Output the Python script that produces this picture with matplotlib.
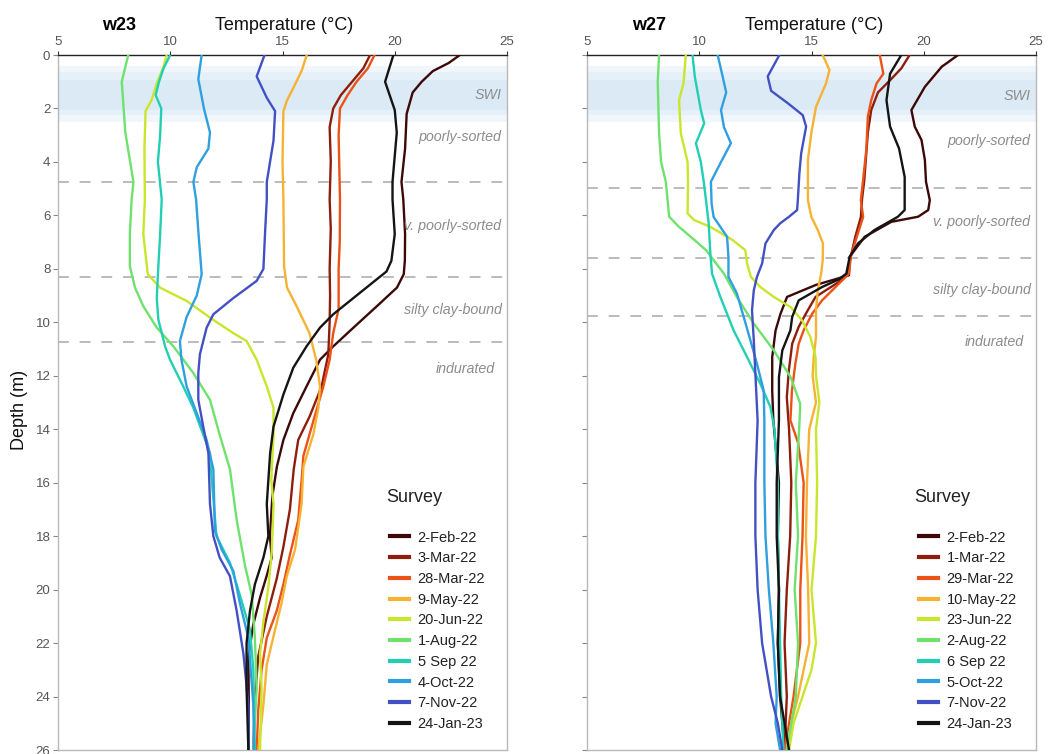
import matplotlib
matplotlib.use('Agg')
import matplotlib.pyplot as plt
from matplotlib.lines import Line2D

plt.rcParams['font.family'] = ['Liberation Sans', 'DejaVu Sans']

# ---------------- data ----------------
labels_w23 = ['2-Feb-22', '3-Mar-22', '28-Mar-22', '9-May-22', '20-Jun-22',
              '1-Aug-22', '5 Sep 22', '4-Oct-22', '7-Nov-22', '24-Jan-23']
labels_w27 = ['2-Feb-22', '1-Mar-22', '29-Mar-22', '10-May-22', '23-Jun-22',
              '2-Aug-22', '6 Sep 22', '5-Oct-22', '7-Nov-22', '24-Jan-23']
colors = ['#3d0808', '#8e1e0c', '#ea5218', '#f5b233', '#c9e52c',
          '#6fe26d', '#22cfb2', '#2f9fe0', '#4350c4', '#141414']

# w23 profiles (depth m, temperature degC)
w23_feb_d = [0, 0.3, 0.6, 1.0, 1.4, 2.2, 3.5, 4.75, 5.4, 6.7, 7.7, 8.2, 8.7, 9.4, 10.2, 10.9, 11.4, 12.4, 13.4, 14.4, 15.4, 16.5, 18.0, 18.8, 19.5, 20.3, 21.3, 22.5, 24.3, 26]
w23_feb_t = [22.9, 22.4, 21.7, 21.2, 20.8, 20.53, 20.46, 20.3, 20.38, 20.46, 20.45, 20.4, 20.1, 19.2, 18.16, 17.26, 16.67, 16.07, 15.48, 15.04, 14.75, 14.55, 14.44, 14.52, 14.29, 14.0, 13.7, 13.48, 13.5, 13.48]
w23_mar3_d = [0, 0.5, 1.0, 1.5, 2.0, 2.7, 4.0, 5.4, 6.5, 8.0, 9.0, 10.0, 11.2, 12.4, 13.5, 14.4, 15.5, 17.0, 18.4, 19.6, 21.0, 22.5, 24.0, 26]
w23_mar3_t = [18.9, 18.6, 18.1, 17.6, 17.26, 17.1, 17.15, 17.1, 17.15, 17.1, 17.12, 17.1, 17.04, 16.74, 16.22, 15.7, 15.5, 15.33, 15.04, 14.74, 14.3, 13.92, 13.78, 13.7]
w23_mar28_d = [0, 0.5, 1.0, 1.5, 2.0, 3.0, 5.4, 7.0, 8.0, 9.5, 10.4, 11.4, 12.4, 13.7, 15.0, 15.9, 17.4, 18.7, 19.8, 20.8, 21.8, 23.0, 24.5, 26]
w23_mar28_t = [19.1, 18.8, 18.3, 17.9, 17.56, 17.5, 17.56, 17.55, 17.5, 17.5, 17.26, 17.1, 16.82, 16.37, 15.93, 15.85, 15.7, 15.33, 15.04, 14.74, 14.3, 14.07, 13.92, 13.85]
w23_may_d = [0, 0.6, 1.2, 1.7, 2.1, 4.0, 5.4, 7.9, 8.7, 9.4, 10.4, 11.4, 12.4, 13.2, 14.2, 15.4, 16.8, 18.5, 19.5, 20.5, 21.5, 22.8, 24.3, 26]
w23_may_t = [16.08, 15.85, 15.5, 15.2, 15.04, 15.0, 15.04, 15.07, 15.2, 15.63, 16.2, 16.5, 16.67, 16.6, 16.37, 15.93, 15.85, 15.56, 15.19, 14.96, 14.67, 14.3, 14.15, 13.92]
w23_jun_d = [0, 0.44, 1.06, 1.69, 2.1, 3.5, 5.4, 6.7, 8.2, 8.7, 9.2, 9.9, 10.4, 10.7, 11.4, 12.4, 13.2, 14.2, 15.9, 16.8, 18.6, 19.9, 21.2, 22.4, 23.7, 26]
w23_jun_t = [9.84, 9.7, 9.4, 9.17, 8.9, 8.85, 8.87, 8.8, 9.0, 9.54, 10.73, 11.9, 12.8, 13.4, 13.85, 14.3, 14.6, 14.6, 14.5, 14.6, 14.52, 14.37, 14.15, 14.0, 14.07, 14.0]
w23_aug_d = [0, 1.0, 2.9, 4.75, 5.4, 6.7, 7.9, 8.7, 9.4, 10.2, 10.9, 11.9, 12.9, 14.2, 15.5, 17.4, 19.1, 20.2, 21.8, 23.7, 26]
w23_aug_t = [8.13, 7.84, 8.0, 8.36, 8.28, 8.2, 8.2, 8.43, 8.8, 9.4, 10.14, 11.03, 11.77, 12.2, 12.66, 12.96, 13.33, 13.63, 13.77, 13.85, 13.7]
w23_sep_d = [0, 0.5, 1.0, 1.5, 2.0, 3.0, 4.0, 5.4, 6.7, 7.9, 9.1, 9.9, 10.9, 11.4, 12.4, 13.2, 14.2, 14.9, 15.9, 18.0, 19.0, 20.2, 21.5, 23.0, 26]
w23_sep_t = [10.0, 9.7, 9.5, 9.35, 9.6, 9.55, 9.45, 9.62, 9.55, 9.47, 9.4, 9.47, 9.77, 9.99, 10.58, 11.03, 11.47, 11.77, 11.85, 12.06, 12.66, 13.1, 13.55, 13.7, 13.77]
w23_oct_d = [0, 0.9, 2.0, 2.9, 3.5, 4.2, 4.75, 5.4, 6.7, 8.2, 9.0, 9.8, 10.7, 11.4, 12.4, 13.4, 14.4, 15.5, 17.8, 18.5, 19.3, 20.5, 21.8, 24.3, 26]
w23_oct_t = [11.4, 11.25, 11.5, 11.77, 11.7, 11.18, 11.03, 11.15, 11.26, 11.4, 11.18, 10.73, 10.43, 10.5, 10.73, 11.18, 11.62, 11.92, 11.99, 12.29, 12.81, 13.1, 13.48, 13.7, 13.73]
w23_nov_d = [0, 0.8, 1.6, 2.1, 3.2, 4.75, 5.4, 6.7, 8.0, 8.45, 9.1, 9.7, 10.2, 11.2, 11.9, 12.9, 13.9, 14.9, 16.8, 18.0, 18.8, 19.5, 20.8, 22.4, 24.3, 26]
w23_nov_t = [14.2, 13.85, 14.3, 14.67, 14.6, 14.3, 14.3, 14.22, 14.15, 13.85, 12.8, 11.92, 11.62, 11.32, 11.25, 11.25, 11.47, 11.7, 11.77, 11.92, 12.2, 12.66, 12.96, 13.26, 13.48, 13.5]
w23_jan_d = [0, 1.0, 2.06, 2.9, 4.75, 5.4, 6.7, 7.7, 8.1, 8.7, 9.7, 10.2, 10.9, 11.7, 12.7, 13.9, 14.9, 15.9, 16.8, 18.0, 18.8, 19.8, 20.8, 22.0, 23.7, 26]
w23_jan_t = [19.94, 19.57, 20.0, 20.09, 19.9, 19.9, 20.0, 19.85, 19.63, 18.74, 17.26, 16.67, 16.07, 15.48, 15.04, 14.6, 14.45, 14.37, 14.3, 14.37, 14.15, 13.77, 13.55, 13.4, 13.4, 13.48]

# w27 profiles
w27_feb_d = [0, 0.44, 1.19, 2.06, 2.68, 3.18, 3.93, 4.74, 5.43, 5.8, 6.05, 6.24, 6.8, 7.55, 8.24, 8.6, 9.05, 9.68, 10.3, 11.3, 12.55, 13.67, 16, 18, 20, 22, 24, 26]
w27_feb_t = [21.53, 20.8, 20.05, 19.45, 19.6, 19.9, 20.05, 20.1, 20.27, 20.2, 19.75, 18.56, 17.37, 16.7, 16.67, 15.2, 13.91, 13.62, 13.4, 13.25, 13.25, 13.3, 13.55, 13.5, 13.55, 13.5, 13.6, 13.8]
w27_mar1_d = [0, 0.5, 0.9, 1.4, 2.06, 2.9, 4.7, 5.4, 6.06, 6.8, 7.55, 8.18, 8.5, 9.05, 9.6, 10.17, 10.8, 11.8, 12.8, 14, 16, 18, 20, 22, 24, 26]
w27_mar1_t = [19.37, 19.0, 18.55, 17.96, 17.66, 17.51, 17.35, 17.25, 17.2, 16.95, 16.75, 16.6, 16.2, 15.18, 14.8, 14.43, 14.14, 13.99, 13.9, 14.0, 14.1, 14.05, 13.9, 13.8, 13.9, 13.8]
w27_mar29_d = [0, 0.7, 1.06, 1.69, 2.3, 3.55, 4.74, 5.43, 6.06, 6.93, 7.55, 8.18, 8.68, 9.18, 9.68, 10.3, 10.8, 11.55, 12.55, 13.67, 14.5, 16, 18, 20, 22, 24, 26]
w27_mar29_t = [18.04, 18.2, 17.9, 17.66, 17.51, 17.44, 17.29, 17.2, 17.3, 16.97, 16.75, 16.67, 16.07, 15.47, 15.03, 14.65, 14.43, 14.28, 14.13, 14.06, 14.4, 14.65, 14.6, 14.5, 14.5, 14.2, 13.8]
w27_may_d = [0, 0.56, 1.06, 1.94, 2.93, 3.93, 5.43, 6.05, 6.55, 7.05, 7.68, 8.18, 8.8, 9.55, 10.55, 11.3, 12, 13, 14, 16, 18, 20, 22, 24, 25, 26]
w27_may_t = [15.5, 15.8, 15.65, 15.2, 14.99, 14.84, 14.84, 14.99, 15.28, 15.51, 15.5, 15.43, 15.28, 15.2, 15.2, 15.1, 15.05, 15.2, 14.9, 14.8, 14.75, 14.85, 14.9, 14.4, 14.1, 13.9]
w27_jun_d = [0, 1.06, 1.69, 2.93, 4.0, 4.8, 5.93, 6.18, 6.43, 6.68, 6.93, 7.3, 7.8, 8.3, 8.68, 9.05, 9.43, 9.93, 10.55, 11.3, 12, 13, 14, 16, 18, 20, 22, 23, 24, 25, 26]
w27_jun_t = [9.4, 9.3, 9.1, 9.18, 9.48, 9.5, 9.48, 9.78, 10.5, 11.0, 11.5, 12.05, 12.13, 12.3, 12.72, 13.32, 14.07, 14.58, 14.95, 15.18, 15.2, 15.35, 15.2, 15.25, 15.2, 15.0, 15.2, 15.0, 14.6, 14.2, 14.0]
w27_aug_d = [0, 1.0, 2.93, 4.0, 4.74, 5.43, 6.05, 6.43, 6.93, 7.3, 8.18, 9.06, 10.05, 11.05, 12.05, 13.05, 14, 16, 18, 20, 22, 24, 25, 26]
w27_aug_t = [8.21, 8.15, 8.21, 8.3, 8.51, 8.59, 8.66, 9.1, 9.8, 10.3, 11.1, 11.68, 12.43, 13.32, 14.07, 14.5, 14.45, 14.3, 14.4, 14.25, 14.4, 14.3, 14.1, 13.9]
w27_sep_d = [0, 0.8, 2.06, 2.56, 3.3, 4.0, 4.74, 5.43, 6.3, 7.5, 8.18, 9.05, 10.3, 11.3, 12.3, 13.17, 14, 16, 18, 20, 22, 24, 26]
w27_sep_t = [9.7, 9.8, 10.07, 10.22, 9.85, 10.07, 10.2, 10.3, 10.42, 10.5, 10.57, 10.94, 11.53, 12.13, 12.72, 13.17, 13.35, 13.5, 13.5, 13.55, 13.6, 13.65, 13.75]
w27_oct_d = [0, 0.8, 1.4, 2.06, 2.7, 3.3, 4.0, 4.74, 5.56, 6.06, 6.8, 7.55, 8.3, 8.93, 9.8, 10.68, 11.55, 12.55, 13.67, 16, 18, 20, 22, 24, 25, 26]
w27_oct_t = [10.82, 11.04, 11.2, 10.97, 11.1, 11.41, 10.97, 10.52, 10.55, 10.64, 11.24, 11.3, 11.3, 11.68, 11.98, 12.28, 12.57, 12.87, 12.9, 12.9, 12.95, 13.1, 13.3, 13.45, 13.4, 13.6]
w27_nov_d = [0, 0.8, 1.34, 1.8, 2.25, 2.68, 3.68, 4.43, 5.43, 5.8, 6.05, 6.3, 6.55, 7.05, 7.8, 8.3, 8.8, 9.55, 10.68, 11.92, 13.67, 16, 18, 20, 22, 24, 25, 26]
w27_nov_t = [13.57, 13.05, 13.2, 13.94, 14.61, 14.76, 14.54, 14.46, 14.39, 14.36, 14.0, 13.6, 13.32, 12.95, 12.8, 12.57, 12.43, 12.35, 12.43, 12.5, 12.6, 12.5, 12.5, 12.6, 12.8, 13.2, 13.5, 13.7]
w27_jan_d = [0, 0.7, 1.69, 2.68, 3.5, 4.56, 5.8, 6.05, 6.55, 7.05, 7.55, 8.18, 8.4, 8.68, 9.18, 9.8, 10.3, 11.05, 12.05, 13.67, 16, 18, 20, 22, 24, 26]
w27_jan_t = [19.0, 18.5, 18.34, 18.5, 18.9, 19.15, 19.15, 18.85, 17.8, 17.07, 16.7, 16.55, 16.2, 15.47, 14.43, 14.14, 14.06, 13.7, 13.55, 13.55, 13.45, 13.45, 13.55, 13.5, 13.6, 14.0]

w23_profiles = [(w23_feb_d, w23_feb_t), (w23_mar3_d, w23_mar3_t), (w23_mar28_d, w23_mar28_t),
                (w23_may_d, w23_may_t), (w23_jun_d, w23_jun_t), (w23_aug_d, w23_aug_t),
                (w23_sep_d, w23_sep_t), (w23_oct_d, w23_oct_t), (w23_nov_d, w23_nov_t),
                (w23_jan_d, w23_jan_t)]
w27_profiles = [(w27_feb_d, w27_feb_t), (w27_mar1_d, w27_mar1_t), (w27_mar29_d, w27_mar29_t),
                (w27_may_d, w27_may_t), (w27_jun_d, w27_jun_t), (w27_aug_d, w27_aug_t),
                (w27_sep_d, w27_sep_t), (w27_oct_d, w27_oct_t), (w27_nov_d, w27_nov_t),
                (w27_jan_d, w27_jan_t)]

layer_names = ['SWI', 'poorly-sorted', 'v. poorly-sorted', 'silty clay-bound', 'indurated']
w23_layer_depths = [1.5, 3.05, 6.4, 9.55, 11.75]
w27_layer_depths = [1.55, 3.22, 6.25, 8.8, 10.75]
w23_bounds = [4.75, 8.3, 10.75]
w27_bounds = [4.98, 7.6, 9.78]
swi_top, swi_bottom = 0.5, 2.35

xticks = [5, 10, 15, 20, 25]
yticks = list(range(0, 27, 2))

# ---------------- figure ----------------
W, H = 1048, 754
fig = plt.figure(figsize=(W / 100, H / 100), dpi=100)

def px_ax(x0, y0, x1, y1):
    return fig.add_axes([x0 / W, 1 - y1 / H, (x1 - x0) / W, (y1 - y0) / H])

axL = px_ax(58, 55, 507, 750)
axR = px_ax(587, 55, 1036, 750)

def style(ax, profiles, labels, bounds, ldepths, show_ylabels, well, well_x, temp_x, title_x):
    ax.set_xlim(5, 25)
    ax.set_ylim(26, 0)
    # SWI band (soft edged)
    ax.axhspan(swi_top - 0.1, swi_bottom + 0.15, color='#f0f6fb', lw=0, zorder=0)
    ax.axhspan(swi_top + 0.15, swi_bottom - 0.1, color='#e6f0f9', lw=0, zorder=0)
    ax.axhspan(swi_top + 0.45, swi_bottom - 0.3, color='#dceaf6', lw=0, zorder=0)
    for b in bounds:
        ax.axhline(b, color='#b5b5b5', lw=1.3, ls=(0, (6, 6)), zorder=1)
    for (d, t), c in zip(profiles, colors):
        ax.plot(t, d, color=c, lw=1.7, zorder=3, solid_joinstyle='round')
    for name, dep in zip(layer_names, ldepths):
        xr = 24.75 if name != 'indurated' else 24.45
        ax.text(xr, dep, name, ha='right', va='center', style='italic',
                fontsize=10.3, color='#8c8c8c', zorder=4)
    ax.xaxis.tick_top()
    ax.set_xticks(xticks)
    ax.set_xticklabels([str(v) for v in xticks])
    ax.tick_params(axis='x', direction='out', length=3, width=0.8, color='#333333',
                   labelsize=9.5, labelcolor='#555555', pad=2)
    ax.set_yticks(yticks)
    if show_ylabels:
        ax.set_yticklabels([str(v) for v in yticks])
    else:
        ax.set_yticklabels([])
    ax.tick_params(axis='y', direction='out', length=3.5, width=0.8, color='#888888',
                   labelsize=9.5, labelcolor='#555555', pad=2)
    for s in ['left', 'right', 'bottom']:
        ax.spines[s].set_color('#b8b8b8')
        ax.spines[s].set_linewidth(1.0)
    ax.spines['top'].set_color('#222222')
    ax.spines['top'].set_linewidth(1.0)
    handles = [Line2D([0], [0], color=c, lw=3) for c in colors]
    leg = ax.legend(handles, labels, loc='lower left',
                    bbox_to_anchor=(0.726, 0.019), frameon=False, fontsize=10.5,
                    handlelength=1.3, handletextpad=0.6,
                    labelspacing=0.46, borderaxespad=0)
    for txt in leg.get_texts():
        txt.set_color('#222222')
    fig.text(title_x / W, 1 - 497 / H, 'Survey', ha='left', va='center',
             fontsize=13, color='#222222')
    fig.text(well_x / W, 1 - 26 / H, well, ha='center', va='center',
             fontsize=13, fontweight='bold')
    fig.text(temp_x / W, 1 - 26 / H, 'Temperature (°C)', ha='center', va='center',
             fontsize=13, color='#111111')

style(axL, w23_profiles, labels_w23, w23_bounds, w23_layer_depths, True, 'w23', 119, 284, 386)
style(axR, w27_profiles, labels_w27, w27_bounds, w27_layer_depths, False, 'w27', 649, 814, 914)

fig.text(20 / W, 1 - 410 / H, 'Depth (m)', rotation=90, ha='center', va='center',
         fontsize=13, color='#111111')

fig.savefig('out.png', dpi=100)
